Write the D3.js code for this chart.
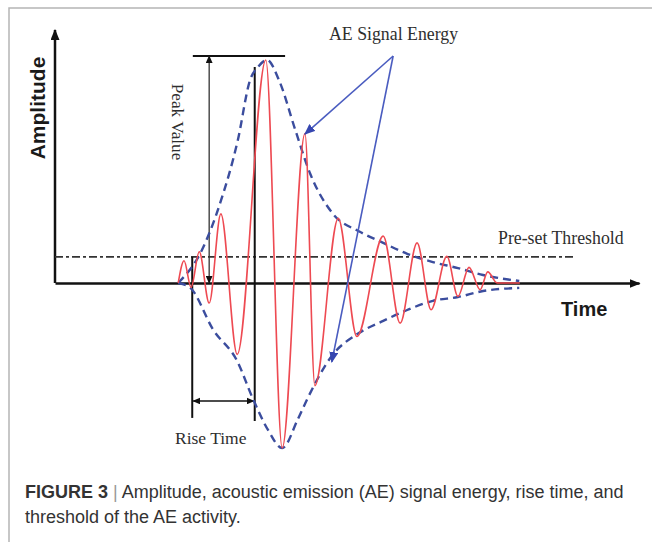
<!DOCTYPE html>
<html>
<head>
<meta charset="utf-8">
<script src="https://cdn.jsdelivr.net/npm/d3@7"></script>
<style>
body { margin: 0; background: #fff; }
</style>
</head>
<body>
<div id="chart"></div>
<script>
// time in % of the time axis, amplitude relative to the peak value
var signalTime = [21.1, 22.1, 23.3, 24.7, 26.4, 28.4, 31.2, 36.1, 38.9, 42.8, 44.5, 48.5, 51.7, 56.2, 59.1, 62.0, 64.4, 67.1, 69.0, 70.9, 72.8, 74.1, 75.7, 79.6];
var signalAmp = [0, 0.10, -0.02, 0.14, -0.09, 0.31, -0.32, 1.0, -0.74, 0.67, -0.46, 0.29, -0.24, 0.21, -0.18, 0.18, -0.12, 0.12, -0.06, 0.07, -0.03, 0.05, 0, 0];

var upperTime = [21.1, 25.2, 28.3, 31.3, 33.4, 34.8, 36.3, 38.5, 41.1, 43.7, 47.6, 52.2, 56.2, 60.4, 64.7, 69.0, 73.3, 79.5];
var upperAmp = [0, 0.15, 0.36, 0.64, 0.91, 0.97, 1.0, 0.90, 0.69, 0.49, 0.31, 0.23, 0.18, 0.13, 0.094, 0.067, 0.036, 0.009];

var lowerTime = [21.1, 23.1, 27.1, 31.2, 33.9, 36.5, 38.9, 41.6, 43.2, 47.6, 51.7, 56.2, 60.4, 64.7, 69.0, 73.3, 79.5];
var lowerAmp = [0, -0.02, -0.21, -0.35, -0.52, -0.66, -0.74, -0.61, -0.52, -0.32, -0.23, -0.17, -0.12, -0.08, -0.063, -0.036, -0.022];

var threshold = 0.117;
var peakLine = { t0: 23.6, t1: 39.4, a: 1.018 };
var peakArrowTime = 26.4;
var riseStart = 23.5, riseEnd = 34.2;
var riseLow = [-0.605, -0.619];
var riseArrowAmp = -0.529;
var riseEndTop = 0.969;
var energySource = { t: 57.9, a: 1.018 };
var energyTips = [{ t: 42.8, a: 0.668 }, { t: 47.4, a: -0.354 }];

var width = 652, height = 542;

var svg = d3.select("#chart").append("svg")
    .attr("width", width)
    .attr("height", height);

var x = d3.scaleLinear().domain([0, 100]).range([55, 639]);
var y = d3.scaleLinear().domain([0, 1]).range([283, 60]);

var defs = svg.append("defs");
function marker(id, color, len, w) {
    defs.append("marker")
        .attr("id", id)
        .attr("viewBox", "0 0 10 10")
        .attr("preserveAspectRatio", "none")
        .attr("refX", 9).attr("refY", 5)
        .attr("markerUnits", "userSpaceOnUse")
        .attr("markerWidth", len).attr("markerHeight", w)
        .attr("orient", "auto-start-reverse")
        .append("path")
        .attr("d", "M0,0L10,5L0,10Z")
        .attr("fill", color);
}
marker("axisHead", "#111", 11, 9);
marker("smallHead", "#111", 8, 7);
marker("blueHead", "#3546b0", 11, 9);

// frame of the figure
svg.append("path")
    .attr("d", "M9,560V8H660")
    .attr("fill", "none")
    .attr("stroke", "#b5b5b5")
    .attr("stroke-width", 1.5);

// axes (no ticks, just the arrows)
var xAxis = svg.append("g")
    .attr("transform", "translate(0," + y(0) + ")")
    .call(d3.axisBottom(x).tickValues([]).tickSizeOuter(0));
xAxis.select(".domain")
    .attr("stroke", "#111")
    .attr("stroke-width", 2.5)
    .attr("marker-end", "url(#axisHead)");

var yAxisScale = y.copy().domain([0, y.invert(30)]);
yAxisScale.range([283, 30]);
var yAxis = svg.append("g")
    .attr("transform", "translate(" + x(0) + ",0)")
    .call(d3.axisLeft(yAxisScale).tickValues([]).tickSizeOuter(0));
yAxis.select(".domain")
    .attr("d", "M0," + yAxisScale(0) + "V" + yAxisScale.range()[1])
    .attr("stroke", "#111")
    .attr("stroke-width", 2.5)
    .attr("marker-end", "url(#axisHead)");

// pre-set threshold
svg.append("line")
    .attr("x1", x(0)).attr("x2", x(89))
    .attr("y1", y(threshold)).attr("y2", y(threshold))
    .attr("stroke", "#333")
    .attr("stroke-width", 1.8)
    .attr("stroke-dasharray", "8,3,3,3");

// peak value markers
svg.append("line")
    .attr("x1", x(peakLine.t0)).attr("x2", x(peakLine.t1))
    .attr("y1", y(peakLine.a)).attr("y2", y(peakLine.a))
    .attr("stroke", "#111").attr("stroke-width", 2.2);

svg.append("line")
    .attr("x1", x(peakArrowTime)).attr("x2", x(peakArrowTime))
    .attr("y1", y(0)).attr("y2", y(peakLine.a))
    .attr("stroke", "#333").attr("stroke-width", 1.3)
    .attr("marker-start", "url(#smallHead)")
    .attr("marker-end", "url(#smallHead)");

// rise time markers
svg.append("line")
    .attr("x1", x(riseStart)).attr("x2", x(riseStart))
    .attr("y1", y(threshold)).attr("y2", y(riseLow[0]))
    .attr("stroke", "#111").attr("stroke-width", 2);
svg.append("line")
    .attr("x1", x(riseEnd)).attr("x2", x(riseEnd))
    .attr("y1", y(riseEndTop)).attr("y2", y(riseLow[1]))
    .attr("stroke", "#111").attr("stroke-width", 2);
svg.append("line")
    .attr("x1", x(riseStart) + 1).attr("x2", x(riseEnd) - 1)
    .attr("y1", y(riseArrowAmp)).attr("y2", y(riseArrowAmp))
    .attr("stroke", "#111").attr("stroke-width", 1.5)
    .attr("marker-start", "url(#smallHead)")
    .attr("marker-end", "url(#smallHead)");

// envelopes
var line = d3.line()
    .x(function (d) { return x(d[0]); })
    .y(function (d) { return y(d[1]); })
    .curve(d3.curveMonotoneX);

svg.append("path")
    .attr("d", line(d3.zip(upperTime, upperAmp)))
    .attr("fill", "none")
    .attr("stroke", "#3b4d9e")
    .attr("stroke-width", 2.4)
    .attr("stroke-dasharray", "8,5");
svg.append("path")
    .attr("d", line(d3.zip(lowerTime, lowerAmp)))
    .attr("fill", "none")
    .attr("stroke", "#3b4d9e")
    .attr("stroke-width", 2.4)
    .attr("stroke-dasharray", "8,5");

// the AE signal
svg.append("path")
    .attr("d", line(d3.zip(signalTime, signalAmp)))
    .attr("fill", "none")
    .attr("stroke", "#ee4a52")
    .attr("stroke-width", 1.6);

// energy annotation arrows
energyTips.forEach(function (tip) {
    svg.append("line")
        .attr("x1", x(energySource.t)).attr("y1", y(energySource.a))
        .attr("x2", x(tip.t)).attr("y2", y(tip.a))
        .attr("stroke", "#4a5cc0")
        .attr("stroke-width", 1.6)
        .attr("marker-end", "url(#blueHead)");
});

// labels
var serif = "'Liberation Serif', 'Times New Roman', serif";
var sans = "'Liberation Sans', Arial, sans-serif";

svg.append("text")
    .attr("x", 329).attr("y", 40)
    .style("font-family", serif).style("font-size", "17.8px")
    .attr("fill", "#2e2e2e")
    .text("AE Signal Energy");

svg.append("text")
    .attr("x", 498).attr("y", 244)
    .style("font-family", serif).style("font-size", "17.8px")
    .attr("fill", "#2e2e2e")
    .text("Pre-set Threshold");

svg.append("text")
    .attr("x", 175).attr("y", 444)
    .style("font-family", serif).style("font-size", "17.5px")
    .attr("fill", "#2e2e2e")
    .text("Rise Time");

svg.append("text")
    .attr("transform", "translate(172,122) rotate(90)")
    .attr("text-anchor", "middle")
    .style("font-family", serif).style("font-size", "17.2px")
    .attr("fill", "#2e2e2e")
    .text("Peak Value");

svg.append("text")
    .attr("transform", "translate(45,108) rotate(-90)")
    .attr("text-anchor", "middle")
    .style("font-family", sans).style("font-size", "21px")
    .style("font-weight", "bold")
    .attr("fill", "#1a1a1a")
    .text("Amplitude");

svg.append("text")
    .attr("x", 561).attr("y", 316)
    .style("font-family", sans).style("font-size", "20px")
    .style("font-weight", "bold")
    .attr("fill", "#1a1a1a")
    .text("Time");

// caption
var cap = svg.append("text")
    .attr("x", 25).attr("y", 498)
    .style("font-family", sans).style("font-size", "18px")
    .attr("fill", "#333");
cap.append("tspan").style("font-weight", "bold").text("FIGURE 3");
cap.append("tspan").attr("fill", "#999").text(" | ");
cap.append("tspan").text("Amplitude, acoustic emission (AE) signal energy, rise time, and");

svg.append("text")
    .attr("x", 25).attr("y", 523)
    .style("font-family", sans).style("font-size", "18px")
    .attr("fill", "#333")
    .text("threshold of the AE activity.");
</script>
</body>
</html>
